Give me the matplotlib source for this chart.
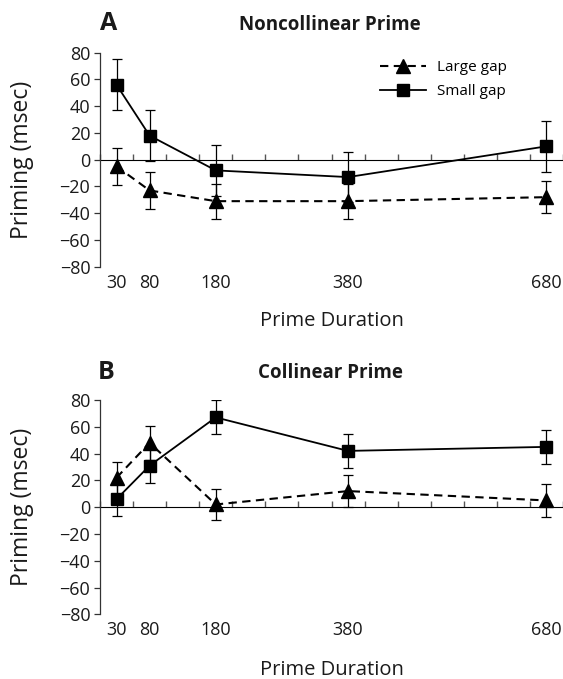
import numpy as np
import matplotlib
matplotlib.use("Agg")
import matplotlib.pyplot as plt
from matplotlib.lines import Line2D

plt.rcParams['font.family'] = ['Open Sans', 'DejaVu Sans']

durations = [30, 80, 180, 380, 680]
tick_labels = ['30', '80', '180', '380', '680']

# Panel A: Noncollinear prime
a_small = [56, 18, -8, -13, 10]
a_small_err = [19, 19, 19, 19, 19]
a_large = [-5, -23, -31, -31, -28]
a_large_err = [14, 14, 13, 13, 12]

# Panel B: Collinear prime
b_small = [6, 31, 67, 42, 45]
b_small_err = [12.5, 13, 12.7, 12.7, 12.8]
b_large = [22, 48, 2, 12, 5]
b_large_err = [12, 12.5, 11.5, 12, 12]

series_labels = ['Large gap', 'Small gap']
yticks = [-80, -60, -40, -20, 0, 20, 40, 60, 80]

W, H = 563, 679
fig = plt.figure(figsize=(W / 100, H / 100), dpi=100)

def fx(px):
    return px / W

def fy(py):
    return 1 - py / H

TXT = '#1a1a1a'

def make_panel(rect, small, small_err, large, large_err, letter, title, letter_xy, title_xy,
               xlabel_y, legend=False):
    ax = fig.add_axes(rect)
    ax.set_xlim(5, 705)
    ax.set_ylim(-80, 80)
    for s in ['top', 'right', 'bottom']:
        ax.spines[s].set_visible(False)
    ax.spines['left'].set_color('#333333')
    ax.spines['left'].set_linewidth(0.9)
    ax.set_yticks(yticks)
    ax.set_yticklabels([str(v).replace('-', '\u2212') for v in yticks])
    ax.tick_params(axis='y', direction='out', length=4.5, width=0.9, color='#333333',
                   pad=2.5, labelsize=13, labelcolor=TXT)
    ax.set_xticks(durations)
    ax.set_xticklabels(tick_labels)
    ax.tick_params(axis='x', length=0, pad=5, labelsize=13, labelcolor=TXT)

    # zero line with small downward ticks
    sec = ax.secondary_xaxis(0.5)
    sec.set_xticks(np.arange(5, 706, 50))
    sec.set_xticklabels([])
    sec.spines['bottom'].set_color('#7a7a7a')
    sec.spines['bottom'].set_linewidth(1.3)
    sec.tick_params(axis='x', direction='out', length=4, width=1, color='#555555')

    el, _, _ = ax.errorbar(durations, large, yerr=large_err, color='black', lw=1.5,
                           marker='^', markersize=9.5, capsize=3.5, elinewidth=0.9,
                           capthick=0.9, label=series_labels[0], zorder=3)
    el.set_dashes((4, 2.6))
    ax.errorbar(durations, small, yerr=small_err, color='black', lw=1.3,
                marker='s', markersize=8.5, capsize=3.5, elinewidth=0.9,
                capthick=0.9, label=series_labels[1], zorder=4)

    ax.set_xlabel('Prime Duration', fontsize=14.5, color=TXT)
    ax.xaxis.set_label_coords(0.5, xlabel_y)
    ax.set_ylabel('Priming (msec)', fontsize=16.5, color=TXT)
    ax.yaxis.set_label_coords(-0.142, 0.5)

    fig.text(fx(letter_xy[0]), fy(letter_xy[1]), letter, fontsize=18, fontweight='bold',
             ha='center', va='center', color=TXT)
    fig.text(fx(title_xy[0]), fy(title_xy[1]), title, fontsize=13.5, fontweight='bold',
             ha='center', va='center', color=TXT)

    if legend:
        h1 = Line2D([], [], color='black', lw=1.5, marker='^', markersize=9.5, dashes=(4, 2.6))
        h2 = Line2D([], [], color='black', lw=1.3, marker='s', markersize=8.5)
        ax.legend([h1, h2], series_labels, loc='upper left', frameon=False,
                  bbox_to_anchor=(fx(380), fy(60)), bbox_transform=fig.transFigure,
                  borderpad=0, borderaxespad=0, handlelength=3.0, handletextpad=0.7,
                  labelspacing=0.62, fontsize=11)
    return ax

axA = make_panel([fx(100), fy(266.7), fx(463), (266.7 - 52.7) / H],
                 a_small, a_small_err, a_large, a_large_err,
                 'A', 'Noncollinear Prime', (109, 23), (330, 25), -0.205, legend=True)
axB = make_panel([fx(100), fy(614.3), fx(463), (614.3 - 400) / H],
                 b_small, b_small_err, b_large, b_large_err,
                 'B', 'Collinear Prime', (106, 372), (330, 373), -0.215)

fig.savefig('out.png', dpi=100)
